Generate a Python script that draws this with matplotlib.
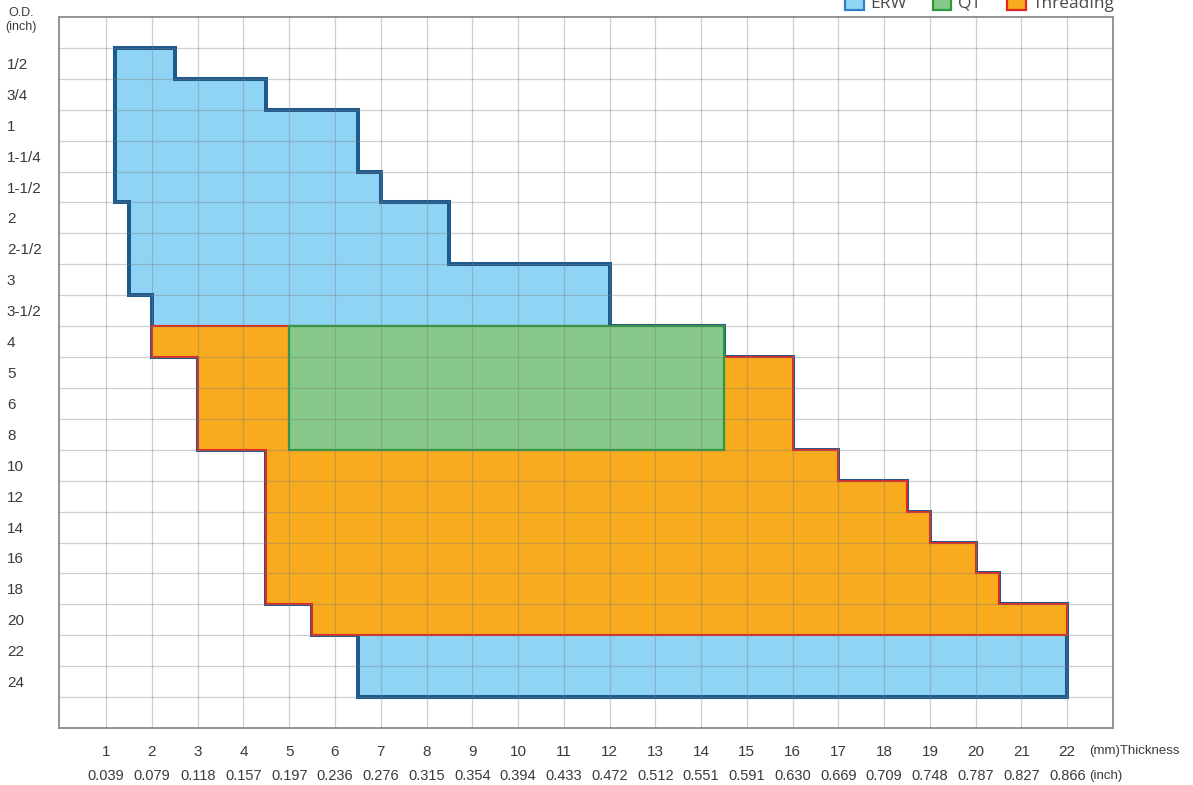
import matplotlib
matplotlib.use("Agg")
import matplotlib.pyplot as plt
import matplotlib.transforms as mtransforms
from matplotlib.patches import Patch
import numpy as np

# ---------------- data ----------------
od_labels = ['1/2', '3/4', '1', '1-1/4', '1-1/2', '2', '2-1/2', '3', '3-1/2',
             '4', '5', '6', '8', '10', '12', '14', '16', '18', '20', '22', '24']
mm_ticks = list(range(1, 23))
inch_labels = ['0.039', '0.079', '0.118', '0.157', '0.197', '0.236', '0.276',
               '0.315', '0.354', '0.394', '0.433', '0.472', '0.512', '0.551',
               '0.591', '0.630', '0.669', '0.709', '0.748', '0.787', '0.827',
               '0.866']

# thickness range (mm) available for each O.D.
erw_od = od_labels
erw_min = [1.2, 1.2, 1.2, 1.2, 1.2, 1.5, 1.5, 1.5, 2.0, 2.0, 3.0, 3.0, 3.0,
           4.5, 4.5, 4.5, 4.5, 4.5, 5.5, 6.5, 6.5]
erw_max = [2.5, 4.5, 6.5, 6.5, 7.0, 8.5, 8.5, 12.0, 12.0, 14.5, 16.0, 16.0, 16.0,
           17.0, 18.5, 19.0, 20.0, 20.5, 22.0, 22.0, 22.0]

thr_od = ['4', '5', '6', '8', '10', '12', '14', '16', '18', '20']
thr_min = [2.0, 3.0, 3.0, 3.0, 4.5, 4.5, 4.5, 4.5, 4.5, 5.5]
thr_max = [14.5, 16.0, 16.0, 16.0, 17.0, 18.5, 19.0, 20.0, 20.5, 22.0]

qt_od = ['4', '5', '6', '8']
qt_min = [5.0, 5.0, 5.0, 5.0]
qt_max = [14.5, 14.5, 14.5, 14.5]

# ---------------- style ----------------
NARROW = ['Liberation Sans', 'DejaVu Sans']
SANS = ['Open Sans', 'DejaVu Sans']
TXT = '#3a3a3a'

W, H = 1193, 785
fig = plt.figure(figsize=(W / 100, H / 100), dpi=100)
L, R, T, B = 59, 1113, 17, 728
ax = fig.add_axes([L / W, 1 - B / H, (R - L) / W, (B - T) / H])

row_top = {lab: i + 1 for i, lab in enumerate(od_labels)}


def band(ods, lo, hi, face, edge, lw, z):
    tops = [row_top[o] for o in ods]
    y = tops + [tops[-1] + 1]
    x1 = list(lo) + [lo[-1]]
    x2 = list(hi) + [hi[-1]]
    ax.fill_betweenx(y, x1, x2, step='post', facecolor=face, edgecolor=edge,
                     linewidth=lw, joinstyle='miter', zorder=z)


band(erw_od, erw_min, erw_max, '#8fd4f5', '#1d5a8e', 2.9, 1.0)
band(thr_od, thr_min, thr_max, '#f8ab1c', '#e0281e', 1.5, 1.1)
band(qt_od, qt_min, qt_max, '#86c98b', '#2b9a3c', 1.6, 1.2)

ax.set_xlim(-0.03, 23)
ax.set_ylim(23, 0)

# grid and ticks
ax.set_xticks(mm_ticks)
ax.set_xticklabels([str(v) for v in mm_ticks], fontfamily=NARROW,
                   fontsize=11, color=TXT)
ax.set_yticks(np.arange(len(od_labels)) + 1.5)
ax.set_yticklabels(od_labels, fontfamily=NARROW, fontsize=11, color=TXT)
ax.set_yticks(np.arange(1, 23), minor=True)
ax.tick_params(axis='both', which='both', length=0)
ax.tick_params(axis='x', pad=12.5)
ax.tick_params(axis='y', pad=37.5)
for t in ax.get_yticklabels():
    t.set_horizontalalignment('left')
ax.grid(True, axis='x', which='major', color='#7a7a7a', alpha=0.36, lw=0.9)
ax.grid(True, axis='y', which='minor', color='#7a7a7a', alpha=0.36, lw=0.9)
ax.set_axisbelow(False)
for s in ax.spines.values():
    s.set_color('#8a8a8a')
    s.set_linewidth(1.3)

# inch row under mm row
trans = mtransforms.blended_transform_factory(ax.transData, ax.transAxes)
inch_y = -(776 - B) / (B - T)
for v, lab in zip(mm_ticks, inch_labels):
    ax.text(v, inch_y, lab, transform=trans, ha='center', va='center',
            fontfamily=NARROW, fontsize=10.5, color=TXT)
ax.text(22.48, -(751 - B) / (B - T), '(mm)Thickness', transform=trans,
        ha='left', va='center', fontfamily=NARROW, fontsize=9.5, color=TXT)
ax.text(22.48, inch_y, '(inch)', transform=trans, ha='left', va='center',
        fontfamily=NARROW, fontsize=9.5, color=TXT)

# y axis title
fig.text(21 / W, 1 - 13 / H, 'O.D.', ha='center', va='center',
         fontfamily=NARROW, fontsize=9, color=TXT)
fig.text(21 / W, 1 - 27 / H, '(inch)', ha='center', va='center',
         fontfamily=NARROW, fontsize=9, color=TXT)

# legend (partially cut at the top, as in the reference)
handles = [Patch(facecolor='#8fd4f5', edgecolor='#2f7fc4', lw=1.6, label='ERW'),
           Patch(facecolor='#86c98b', edgecolor='#2b9a3c', lw=1.6, label='QT'),
           Patch(facecolor='#f8ab1c', edgecolor='#e0281e', lw=1.6, label='Threading')]
leg = fig.legend(handles=handles, loc='center right',
                 bbox_to_anchor=(1123 / W, 1 - 3 / H), ncol=3, frameon=False,
                 borderpad=0, handlelength=1.05, handleheight=1.05,
                 handletextpad=0.4, columnspacing=1.5,
                 prop={'family': SANS, 'size': 12.5})
for t in leg.get_texts():
    t.set_color('#4a4a4a')

fig.savefig('out.png', dpi=100)
